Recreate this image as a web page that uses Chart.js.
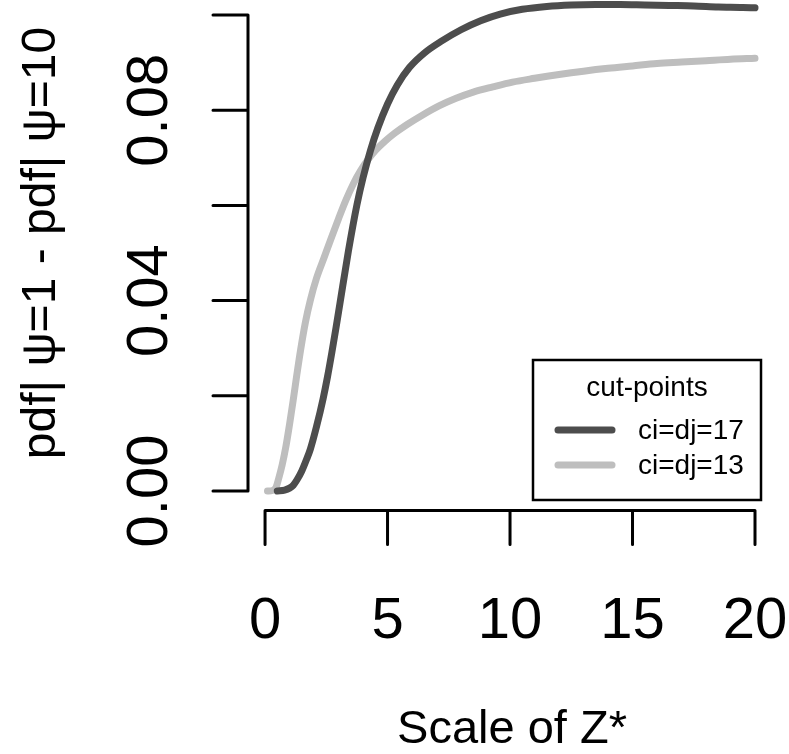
<!DOCTYPE html>
<html>
<head>
<meta charset="utf-8">
<script src="https://cdn.jsdelivr.net/npm/chart.js@4"></script>
<style>
html,body{margin:0;padding:0;background:#fff;}
#wrap{width:789px;height:754px;position:relative;}
</style>
</head>
<body>
<div id="wrap"><canvas id="c" width="789" height="754"></canvas></div>
<script>
// ---- data ----
const z17 = [0.5, 0.8, 1.0, 1.15, 1.3, 1.5, 1.7, 1.85, 2.1, 2.37, 2.55, 2.73, 2.9, 3.06, 3.4, 3.75, 4.0, 4.3, 4.6, 5.0, 5.4, 5.9, 6.5, 7.2, 8.0, 8.8, 9.6, 10.5, 11.5, 12.5, 13.5, 14.5, 15.5, 16.5, 17.5, 18.5, 19.5, 20];
const pdf17 = [0, 0.0002, 0.0006, 0.0012, 0.0023, 0.0042, 0.0067, 0.0088, 0.0135, 0.0194, 0.0240, 0.0292, 0.0344, 0.0395, 0.0503, 0.0601, 0.0658, 0.0715, 0.0762, 0.0813, 0.0853, 0.0890, 0.0920, 0.0945, 0.0969, 0.0988, 0.1002, 0.1012, 0.1018, 0.1021, 0.1022, 0.1022, 0.1021, 0.1020, 0.1019, 0.1017, 0.1016, 0.1015];
const z13 = [0.1, 0.3, 0.45, 0.55, 0.7, 0.85, 1.0, 1.15, 1.3, 1.45, 1.65, 1.85, 2.1, 2.4, 2.7, 3.0, 3.3, 3.6, 3.9, 4.2, 4.5, 4.9, 5.3, 5.8, 6.4, 7.1, 7.8, 8.5, 9.3, 10.1, 11, 12, 13, 14, 15, 16, 17, 18, 19, 20];
const pdf13 = [0, 0.0001, 0.0008, 0.0025, 0.0055, 0.0093, 0.014, 0.0191, 0.0245, 0.0296, 0.0355, 0.0401, 0.0447, 0.0489, 0.0531, 0.0572, 0.0611, 0.0645, 0.0673, 0.0696, 0.0715, 0.0735, 0.0752, 0.0770, 0.0789, 0.0809, 0.0825, 0.0838, 0.0849, 0.0859, 0.0867, 0.0875, 0.0882, 0.0888, 0.0893, 0.0898, 0.0901, 0.0904, 0.0907, 0.0909];
const seriesLabels = ["ci=dj=17", "ci=dj=13"];
const seriesColors = ["#4d4d4d", "#bebebe"];
const xTicks = [0, 5, 10, 15, 20];
const xTickLabels = ["0", "5", "10", "15", "20"];
const yTicks = [0, 0.02, 0.04, 0.06, 0.08, 0.10];
const yTickLabels = ["0.00", "", "0.04", "", "0.08", ""];
const xTitle = "Scale of Z*";
const yTitle = "pdf| \u03C8=1 - pdf| \u03C8=10";
const legendTitle = "cut-points";

const FONT = '"Liberation Sans", Arial, Helvetica, sans-serif';

function pts(xs, ys){ return xs.map((x,i)=>({x:x, y:ys[i]})); }

const rAxes = {
  id: 'rAxes',
  afterDraw(chart){
    const ctx = chart.ctx;
    const xs = chart.scales.x, ys = chart.scales.y;
    const area = chart.chartArea;
    ctx.save();
    ctx.strokeStyle = '#000';
    ctx.fillStyle = '#000';
    ctx.lineWidth = 3;
    ctx.lineCap = 'round';
    // y axis
    const yAxX = area.left;
    const y0 = ys.getPixelForValue(yTicks[0]);
    const y1 = ys.getPixelForValue(yTicks[yTicks.length-1]);
    ctx.beginPath();
    ctx.moveTo(yAxX, y0); ctx.lineTo(yAxX, y1);
    yTicks.forEach(v=>{ const p = ys.getPixelForValue(v); ctx.moveTo(yAxX, p); ctx.lineTo(yAxX-35, p); });
    ctx.stroke();
    // x axis
    const xAxY = area.bottom;
    const x0 = xs.getPixelForValue(xTicks[0]);
    const x1 = xs.getPixelForValue(xTicks[xTicks.length-1]);
    ctx.beginPath();
    ctx.moveTo(x0, xAxY); ctx.lineTo(x1, xAxY);
    xTicks.forEach(v=>{ const p = xs.getPixelForValue(v); ctx.moveTo(p, xAxY); ctx.lineTo(p, xAxY+34); });
    ctx.stroke();
    // x tick labels
    ctx.font = '58px ' + FONT;
    ctx.textAlign = 'center';
    ctx.textBaseline = 'alphabetic';
    xTicks.forEach((v,i)=>{ ctx.fillText(xTickLabels[i], xs.getPixelForValue(v), 638); });
    // y tick labels (rotated)
    yTicks.forEach((v,i)=>{
      if(!yTickLabels[i]) return;
      ctx.save();
      ctx.translate(167, ys.getPixelForValue(v));
      ctx.rotate(-Math.PI/2);
      ctx.fillText(yTickLabels[i], 0, 0);
      ctx.restore();
    });
    // titles
    ctx.font = '47px ' + FONT;
    ctx.fillText(xTitle, (x0+x1)/2 + 2, 743);
    ctx.font = '48px ' + FONT;
    ctx.save();
    ctx.translate(55, (y0+y1)/2 - 10);
    ctx.rotate(-Math.PI/2);
    ctx.fillText(yTitle, 0, 0);
    ctx.restore();
    // legend
    ctx.lineWidth = 2.5;
    ctx.lineCap = 'butt';
    ctx.strokeRect(533, 360, 228, 140);
    ctx.font = '28px ' + FONT;
    ctx.textAlign = 'center';
    ctx.textBaseline = 'middle';
    ctx.fillText(legendTitle, 647, 388);
    ctx.textAlign = 'left';
    const rows = [430, 465];
    chart.data.datasets.forEach((ds,i)=>{
      ctx.strokeStyle = ds.borderColor;
      ctx.lineWidth = 7;
      ctx.lineCap = 'round';
      ctx.beginPath(); ctx.moveTo(558, rows[i]); ctx.lineTo(612, rows[i]); ctx.stroke();
      ctx.fillStyle = '#000';
      ctx.fillText(ds.label, 638, rows[i]+1);
    });
    ctx.restore();
  }
};

new Chart(document.getElementById('c'), {
  type: 'line',
  data: {
    datasets: [
      { label: seriesLabels[0], data: pts(z17, pdf17), borderColor: seriesColors[0], borderWidth: 7, pointRadius: 0, cubicInterpolationMode: 'monotone', borderCapStyle: 'round', borderJoinStyle: 'round', fill: false, clip: false },
      { label: seriesLabels[1], data: pts(z13, pdf13), borderColor: seriesColors[1], borderWidth: 7, pointRadius: 0, cubicInterpolationMode: 'monotone', borderCapStyle: 'round', borderJoinStyle: 'round', fill: false, clip: false }
    ]
  },
  options: {
    responsive: false,
    animation: false,
    devicePixelRatio: 1,
    layout: { padding: { left: 248, right: 14.5, top: 0, bottom: 243.5 } },
    plugins: { legend: { display: false }, tooltip: { enabled: false }, title: { display: false } },
    scales: {
      x: { type: 'linear', min: -0.696, max: 20.796, display: false },
      y: { type: 'linear', min: -0.0041, max: 0.10315, display: false }
    },
    events: []
  },
  plugins: [rAxes]
});
</script>
</body>
</html>
